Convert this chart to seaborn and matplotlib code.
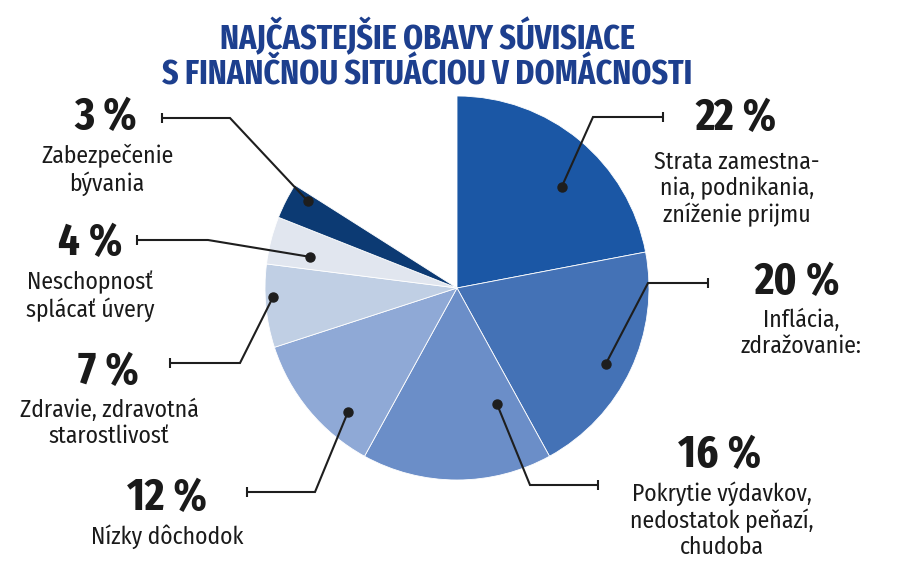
import numpy as np
import matplotlib
matplotlib.use("Agg")
import matplotlib.pyplot as plt
import seaborn as sns

sns.set_theme(style="white")
plt.rcParams["font.family"] = ["Fira Sans Condensed", "DejaVu Sans"]

W, H = 900, 566

title = "NAJČASTEJŠIE OBAVY SÚVISIACE\nS FINANČNOU SITUÁCIOU V DOMÁCNOSTI"
categories = [
    "Strata zamestna-\nnia, podnikania,\nzníženie prijmu",
    "Inflácia,\nzdražovanie:",
    "Pokrytie výdavkov,\nnedostatok peňazí,\nchudoba",
    "Nízky dôchodok",
    "Zdravie, zdravotná\nstarostlivosť",
    "Neschopnosť\nsplácať úvery",
    "Zabezpečenie\nbývania",
]
shares = [22, 20, 16, 12, 7, 4, 3]
colors = ["#1b57a5", "#4472b6", "#6b8ec8", "#8fa9d6", "#c0cfe4", "#e1e6ef", "#0c3a73"]

# layout, pixels from the top-left corner
CX, CY, R = 457, 288, 192
anchor = [(0.58, 0.76), (0.525, 0.87), (0.17, 0.64), (0.29, 0.86),
          (0.60, 0.96), (0.33, 0.785), (0.80, 0.90)]
elbow = [(593, 117), (648, 283), (530, 485), (315, 492), (240, 363), (208, 240), (230, 118)]
end = [(663, 117), (708, 283), (598, 485), (247, 492), (170, 363), (137, 240), (162, 118)]
pct_xy = [(736, 118), (797, 282), (720, 455), (167, 498), (108, 372), (90, 243), (106, 117)]
lab_xy = [(737, 151), (801, 309), (722, 481), (167, 524), (109, 399), (90, 271), (107, 144)]

fig = plt.figure(figsize=(W / 100, H / 100), dpi=100)
ax = fig.add_axes([0, 0, 1, 1])

wedges, _ = ax.pie(
    np.array(shares) / 100, normalize=False, startangle=90, counterclock=False,
    colors=colors, radius=R, center=(CX, H - CY),
    wedgeprops=dict(linewidth=0.6, edgecolor="white"),
)
ax.set_xlim(0, W)
ax.set_ylim(0, H)
ax.set_aspect("equal")
ax.axis("off")

line_kw = dict(color="#1e1e1e", lw=1.5, solid_capstyle="butt", solid_joinstyle="miter")
for i, w in enumerate(wedges):
    # anchor dot: fraction along the wedge (clockwise) and fraction of radius
    f, rf = anchor[i]
    ang = np.radians(w.theta2 - f * (w.theta2 - w.theta1))
    dx, dy = CX + rf * R * np.cos(ang), H - CY + rf * R * np.sin(ang)
    ex, ey = elbow[i]
    tx, ty = end[i]
    ax.plot([dx, ex, tx], [dy, H - ey, H - ty], **line_kw)
    ax.plot([tx, tx], [H - ty - 5, H - ty + 5], **line_kw)
    ax.plot(dx, dy, "o", color="#1e1e1e", ms=6.5)

    px, py = pct_xy[i]
    ax.text(px, H - py, f"{shares[i]}\u2009%", ha="center", va="center",
            fontsize=33, fontweight="bold", color="#1a1a1a",
            family=["Fira Sans Extra Condensed", "DejaVu Sans"])
    lx, ly = lab_xy[i]
    ax.text(lx, H - ly, categories[i], ha="center", va="top", fontsize=17,
            color="#1a1a1a", linespacing=1.15)

fig.text(427 / W, 1 - 55 / H, title, ha="center", va="center", fontsize=25,
         fontweight="bold", color="#1d3f8e", linespacing=1.05,
         family=["Fira Sans Extra Condensed", "DejaVu Sans"])

fig.savefig("out.png", dpi=100)
